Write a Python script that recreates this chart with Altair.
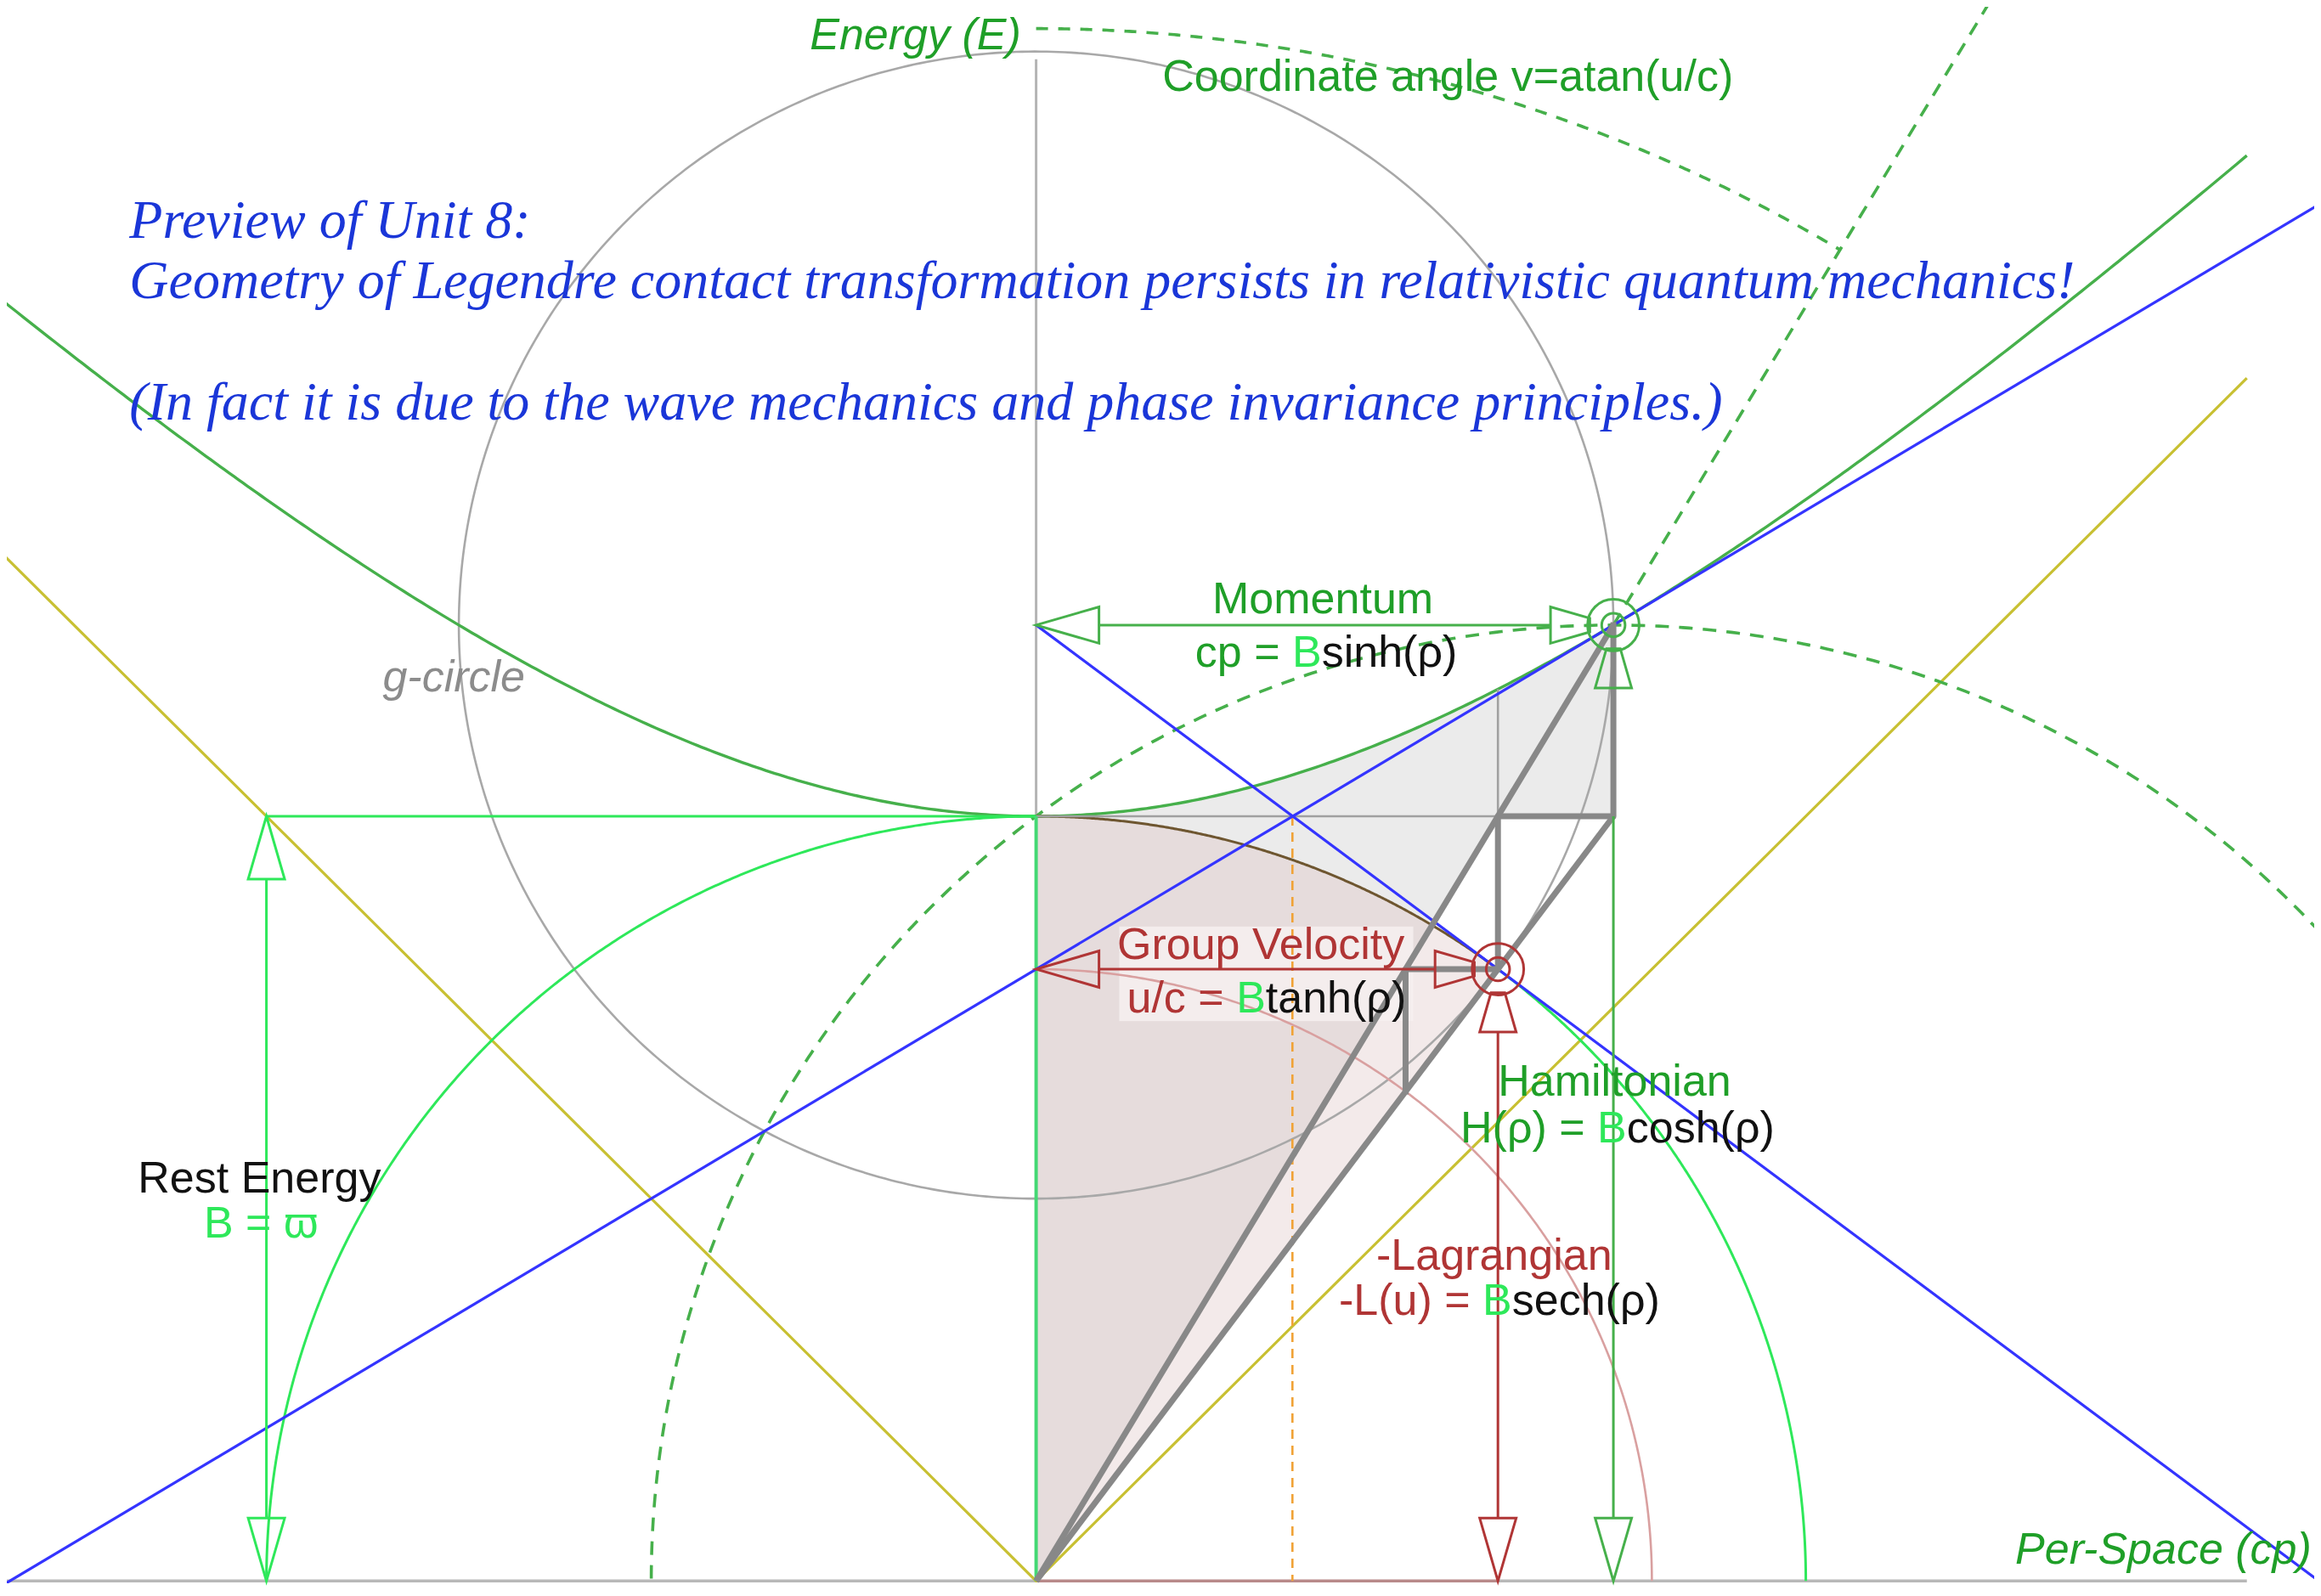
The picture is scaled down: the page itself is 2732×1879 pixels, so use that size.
import numpy as np
import pandas as pd
import altair as alt

# ---------------- values (units of rest energy B) ----------------
MOMENTUM = [0.75, 1.25]          # (cp, E) = (B sinh rho, B cosh rho)
GROUPVEL = [0.60, 0.80]          # (u/c, -L) = (B tanh rho, B sech rho)
GCIRCLE = [0.0, 1.25, 0.75]      # g-circle centre x, centre y, radius
DASH_CIRCLE = [0.75, 0.0, 1.25]  # dashed circle centre x, centre y, radius
ANGLE_ARC_R = 2.03               # "coordinate angle" arc radius
RED_ARC_R = 0.80                 # light red arc radius
ORANGE_X = 0.333                 # orange dashed vertical
NORMAL_SLOPE = -0.75             # blue line through (0, cosh) and group velocity point
STAIR_X = [0.75, 0.75, 0.60, 0.60, 0.48, 0.48]
STAIR_Y = [1.25, 1.00, 1.00, 0.80, 0.80, 0.64]
LEFT_END, RIGHT_END = -1.40, 1.573
GREY_AXIS_TOP = 1.99

XMIN, XMAX = -1.3373, 1.6605
YMIN, YMAX = -0.003, 2.0585
W, H = 2716, 1856
PXX = W / (XMAX - XMIN)
PXY = H / (YMAX - YMIN)

xs = alt.Scale(domain=[XMIN, XMAX], nice=False, zero=False)
ys = alt.Scale(domain=[YMIN, YMAX], nice=False, zero=False)
X = alt.X("x:Q", scale=xs, axis=None)
Y = alt.Y("y:Q", scale=ys, axis=None)

SANS = "Liberation Sans, Arial, Helvetica, sans-serif"
SERIF = "Liberation Serif, Times New Roman, serif"

GREEN = "#46b04b"
TGREEN = "#1f9f28"
BGREEN = "#2ee85a"
BLUE = "#3434ff"
YELLOW = "#c8c032"
GREY = "#a8a8a8"
DGREY = "#888888"
DRED = "#b03535"
LRED = "#d9a0a0"
BROWN = "#6e5630"
ORANGE = "#f0a236"


def seg(xv, yv):
    return pd.DataFrame({"x": list(xv), "y": list(yv), "i": list(range(len(xv)))})


def arc(cx, cy, r, a0, a1, n=300):
    t = np.radians(np.linspace(a0, a1, n))
    return seg(cx + r * np.cos(t), cy + r * np.sin(t))


def line(df, color, width, dash=None, cap="butt"):
    kw = dict(color=color, strokeWidth=width, clip=True, strokeCap=cap, strokeJoin="round")
    if dash:
        kw["strokeDash"] = dash
    return alt.Chart(df).mark_line(**kw).encode(x=X, y=Y, order="i:Q")


def area(df, color, opacity=1.0):
    return alt.Chart(df).mark_area(color=color, opacity=opacity, clip=True, orient="vertical").encode(
        x=X, y=Y, y2="y2:Q")


layers = []

# ---------------- shaded regions ----------------
px, py = MOMENTUM
gx, gy = GROUPVEL
ka = py / px            # slope of line origin -> momentum point
kd = gy / gx            # slope of line origin -> group velocity point
xa = 1 / np.sqrt(1 + ka ** 2)   # where line a meets unit circle

gxs = np.linspace(0, px, 400)
top = np.sqrt(1 + gxs ** 2)
bot = np.where(gxs <= xa, np.sqrt(np.clip(1 - gxs ** 2, 0, None)),
               np.where(gxs <= gx, ka * gxs, 1.0))
layers.append(area(pd.DataFrame({"x": gxs, "y": top, "y2": bot}), "#ebebeb"))

dxs = np.linspace(0, xa, 300)
layers.append(area(pd.DataFrame({"x": dxs, "y": np.sqrt(1 - dxs ** 2), "y2": ka * dxs}), "#e6dcdc"))

lxs = np.linspace(0, gx, 300)
ltop = np.minimum(ka * lxs, np.sqrt(1 - lxs ** 2))
layers.append(area(pd.DataFrame({"x": lxs, "y": ltop, "y2": kd * lxs}), "#f3eaea"))

# label background (group velocity)
bg = pd.DataFrame([dict(x=0.108, x2=0.49, y=0.732, y2=0.856)])
layers.append(alt.Chart(bg).mark_rect(color="#f6f0f0", opacity=0.85).encode(
    x=X, x2="x2:Q", y=Y, y2="y2:Q"))

# ---------------- thin construction lines ----------------
layers.append(line(seg([LEFT_END, 0], [0, 0]), "#b8b8b8", 3.5))
layers.append(line(seg([gx, RIGHT_END], [0, 0]), "#b8b8b8", 3.5))
layers.append(line(seg([0, gx], [0, 0]), "#b88a8a", 3.5))

# g-circle
layers.append(line(arc(GCIRCLE[0], GCIRCLE[1], GCIRCLE[2], 0, 360, 600), GREY, 2.6))
# grey energy axis above B
layers.append(line(seg([0, 0], [1, GREY_AXIS_TOP]), "#b4b4b4", 3))

# yellow asymptotes
layers.append(line(seg([LEFT_END, 0, RIGHT_END], [-LEFT_END, 0, RIGHT_END]), YELLOW, 3.2))

# hyperbola
hx = np.linspace(LEFT_END, RIGHT_END, 500)
layers.append(line(seg(hx, np.sqrt(1 + hx ** 2)), GREEN, 3.4))

# dashed green circle, radial line, coordinate angle arc
layers.append(line(arc(DASH_CIRCLE[0], DASH_CIRCLE[1], DASH_CIRCLE[2], 0, 180, 500), GREEN, 3.6, [16, 12]))
layers.append(line(seg([px, px * 1.8], [py, py * 1.8]), GREEN, 3.6, [16, 12]))
ang = np.degrees(np.arctan2(py, px))
layers.append(line(arc(0, 0, ANGLE_ARC_R, 90, ang, 300), GREEN, 3.6, [14, 12]))

# unit circle pieces
gang = np.degrees(np.arctan2(gy, gx))
layers.append(line(arc(0, 0, 1, 90, 180), BGREEN, 3))
layers.append(line(arc(0, 0, 1, gang, 0), BGREEN, 3))
layers.append(line(arc(0, 0, 1, 90, gang), BROWN, 3))
# light red arc
layers.append(line(arc(0, 0, RED_ARC_R, 90, 0), LRED, 2.6))

# horizontal E=B lines
layers.append(line(seg([-1, 0], [1, 1]), BGREEN, 3))
layers.append(line(seg([0, gx], [1, 1]), "#a0a0a0", 2.6))
layers.append(line(seg([gx, gx], [1, np.sqrt(1 + gx ** 2)]), "#a0a0a0", 2.6))
# energy axis below B
layers.append(line(seg([0, 0], [0, 1]), "#44d874", 4))
# orange dashed
layers.append(line(seg([ORANGE_X, ORANGE_X], [1, 0]), ORANGE, 2.6, [11, 8]))

# blue tangent and normal lines
tx = np.array([-1.5, 1.8])
layers.append(line(seg(tx, gx * tx + gy), BLUE, 3.2))
nx = np.array([0, 1.8])
layers.append(line(seg(nx, py + NORMAL_SLOPE * nx), BLUE, 3.2))

# thick grey lines
layers.append(line(seg([0, px], [0, py]), DGREY, 7))
layers.append(line(seg([0, px], [0, 1.0]), DGREY, 7))
layers.append(line(seg(STAIR_X, STAIR_Y), DGREY, 7, cap="square"))

# ---------------- arrows ----------------
ALX = 74 / PXX
ALY = 74 / PXY
layers.append(line(seg([ALX, px - ALX], [py, py]), GREEN, 3))          # momentum
layers.append(line(seg([px, px], [1.0, ALY]), GREEN, 3))                # hamiltonian
layers.append(line(seg([ALX, gx - ALX], [gy, gy]), DRED, 3))            # group velocity
layers.append(line(seg([gx, gx], [gy - ALY, ALY]), DRED, 3))            # lagrangian
layers.append(line(seg([-1, -1], [1 - ALY, ALY]), BGREEN, 3))           # rest energy

UP = "M0,0L0.58,2L-0.58,2Z"
DOWN = "M0,0L0.58,-2L-0.58,-2Z"
LEFT = "M0,0L2,-0.58L2,0.58Z"
RIGHT_T = "M-0.75,-0.22L-0.75,0.22L-2,0.58L-2,-0.58Z"
UP_T = "M-0.22,0.75L0.22,0.75L0.58,2L-0.58,2Z"
heads = pd.DataFrame([
    dict(x=0, y=py, shape=LEFT, color=GREEN),
    dict(x=px, y=py, shape=RIGHT_T, color=GREEN),
    dict(x=px, y=py, shape=UP_T, color=GREEN),
    dict(x=px, y=0, shape=DOWN, color=GREEN),
    dict(x=0, y=gy, shape=LEFT, color=DRED),
    dict(x=gx, y=gy, shape=RIGHT_T, color=DRED),
    dict(x=gx, y=gy, shape=UP_T, color=DRED),
    dict(x=gx, y=0, shape=DOWN, color=DRED),
    dict(x=-1, y=1, shape=UP, color=BGREEN),
    dict(x=-1, y=0, shape=DOWN, color=BGREEN),
])
heads["size"] = 5476
layers.append(alt.Chart(heads).mark_point(filled=False, strokeWidth=3, opacity=1, strokeJoin="miter").encode(
    x=X, y=Y, shape=alt.Shape("shape:N", scale=None), color=alt.Color("color:N", scale=None),
    size=alt.Size("size:Q", scale=None)))

targets = pd.DataFrame([
    dict(x=px, y=py, color=GREEN, size=3700),
    dict(x=px, y=py, color=GREEN, size=760),
    dict(x=gx, y=gy, color=DRED, size=3700),
    dict(x=gx, y=gy, color=DRED, size=760),
])
layers.append(alt.Chart(targets).mark_point(filled=False, strokeWidth=3, opacity=1, shape="circle").encode(
    x=X, y=Y, color=alt.Color("color:N", scale=None), size=alt.Size("size:Q", scale=None)))

# ---------------- texts ----------------
F = 52
BW = 0.667 * F / PXX      # width of "B"
SP = 0.278 * F / PXX      # width of a space
rows = []


def T(x, y, text, color, align="left", font=SANS, style="normal", size=F):
    rows.append(dict(x=x, y=y, text=text, color=color, align=align, font=font, style=style, size=size))


def eq(xb, y, lhs, lcol, rhs):
    T(xb - SP, y, lhs, lcol, align="right")
    T(xb, y, "B", BGREEN)
    T(xb + BW, y, rhs, "#111111")


T(-0.294, 2.003, "Energy (E)", TGREEN, style="italic")
T(0.164, 1.948, "Coordinate angle v=atan(u/c)", TGREEN)
T(-1.178, 1.756, "Preview of Unit 8:", "#1a36d8", font=SERIF, style="italic", size=64)
T(-1.178, 1.677, "Geometry of Legendre contact transformation persists in relativistic quantum mechanics!",
  "#1a36d8", font=SERIF, style="italic", size=64)
T(-1.178, 1.519, "(In fact it is due to the wave mechanics and phase invariance principles.)",
  "#1a36d8", font=SERIF, style="italic", size=64)
T(0.3725, 1.265, "Momentum", TGREEN, align="center")
eq(0.3327, 1.196, "cp =", TGREEN, "sinh(ρ)")
T(-0.849, 1.163, "g-circle", "#8c8c8c", style="italic")
T(0.1053, 0.8135, "Group Velocity", DRED)
eq(0.26, 0.743, "u/c =", DRED, "tanh(ρ)")
T(0.600, 0.6347, "Hamiltonian", TGREEN)
eq(0.729, 0.573, "H(ρ) =", TGREEN, "cosh(ρ)")
T(-1.167, 0.508, "Rest Energy", "#111111")
T(-1.007, 0.449, "B = ϖ", BGREEN, align="center")
T(0.442, 0.407, "-Lagrangian", DRED)
eq(0.58, 0.348, "-L(u) =", DRED, "sech(ρ)")
T(1.657, 0.022, "Per-Space (cp)", TGREEN, align="right", style="italic")

tdf = pd.DataFrame(rows)
for (al, fo, st), sub in tdf.groupby(["align", "font", "style"]):
    layers.append(alt.Chart(sub).mark_text(align=al, baseline="alphabetic", font=fo, fontStyle=st).encode(
        x=X, y=Y, text="text:N", color=alt.Color("color:N", scale=None),
        size=alt.Size("size:Q", scale=None)))

chart = alt.layer(*layers).properties(width=W, height=H, padding=0).configure_view(stroke=None)
chart.save("out.html", embed_options={"renderer": "svg", "actions": False})
